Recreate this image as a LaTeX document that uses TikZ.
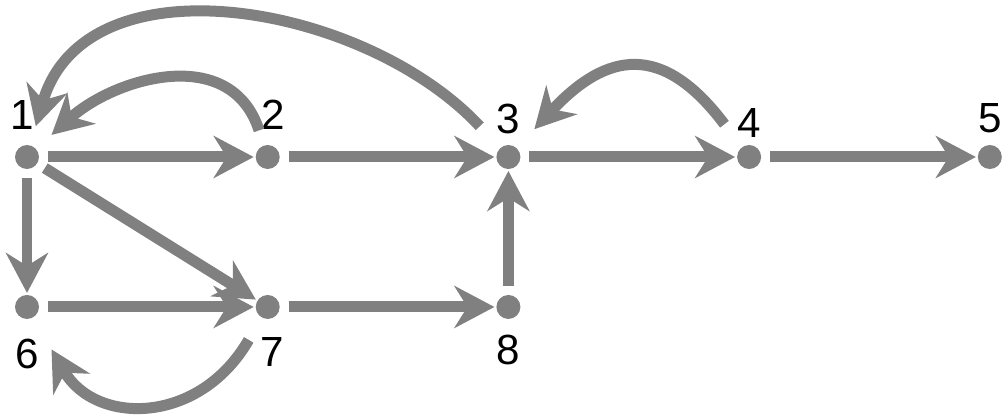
\documentclass[tikz,border=0pt]{standalone}
\usepackage{fontspec}
\setmainfont{Liberation Sans}
\usetikzlibrary{arrows.meta,positioning}
\definecolor{edgegray}{RGB}{128,128,128}
\tikzset{
  dot/.style = {circle, fill=edgegray, minimum size=0.48cm, inner sep=0pt,
                outer sep=0pt},
  num/.style = {font=\fontsize{24}{28}\selectfont, inner sep=0pt, text=black},
  arr/.style = {-{Stealth[length=0.8cm,width=0.84cm,inset=0.26cm]},
                draw=edgegray, line width=0.22cm, shorten <=0.18cm,
                shorten >=0.04cm},
}

\begin{document}
\begin{tikzpicture}[x=0.02cm, y=0.02cm, node distance=2.52cm and 4.335cm]
  \useasboundingbox (0,0) rectangle (1003,419);
  \node[dot] (n1) at (27,262) {};
  \node[dot, right=of n1] (n2) {};
  \node[dot, right=of n2] (n3) {};
  \node[dot, right=of n3] (n4) {};
  \node[dot, right=of n4] (n5) {};
  \node[dot, below=of n1] (n6) {};
  \node[dot, below=of n2] (n7) {};
  \node[dot, below=of n3] (n8) {};

  \node[num, above=0.3cm of n1, xshift=-0.1cm] (l1) {1};
  \node[num, above=0.3cm of n2, xshift=0.12cm] (l2) {2};
  \node[num, above=0.22cm of n3] (l3) {3};
  \node[num, above=0.14cm of n4] (l4) {4};
  \node[num, above=0.24cm of n5] (l5) {5};
  \node[num, below=0.4cm of n6] (l6) {6};
  \node[num, below=0.36cm of n7, xshift=0.1cm] (l7) {7};
  \node[num, below=0.32cm of n8] (l8) {8};

  \draw[arr] (n1) -- (n2);
  \draw[arr] (n2) -- (n3);
  \draw[arr] (n3) -- (n4);
  \draw[arr] (n4) -- (n5);
  \draw[arr] (n1) -- (n6);
  \draw[arr] (n1) -- (n7);
  \draw[arr] (n6) -- (n7);
  \draw[arr] (n7) -- (n8);
  \draw[arr] (n8) -- (n3);

  % back edges
  \draw[arr, shorten <=0.6cm, shorten >=0.4cm] (n3) to[out=133, in=74, looseness=1.08] (n1);
  \draw[arr, shorten <=0.32cm, shorten >=0.42cm] (n2) to[out=108, in=42, looseness=1.2] (n1);
  \draw[arr, shorten <=0.58cm, shorten >=0.52cm] (n4) to[out=127, in=47, looseness=1.5] (n3);
  \draw[arr, shorten <=0.52cm, shorten >=0.74cm] (n7) to[out=240, in=300, looseness=1.4] (n6);
\end{tikzpicture}
\end{document}
